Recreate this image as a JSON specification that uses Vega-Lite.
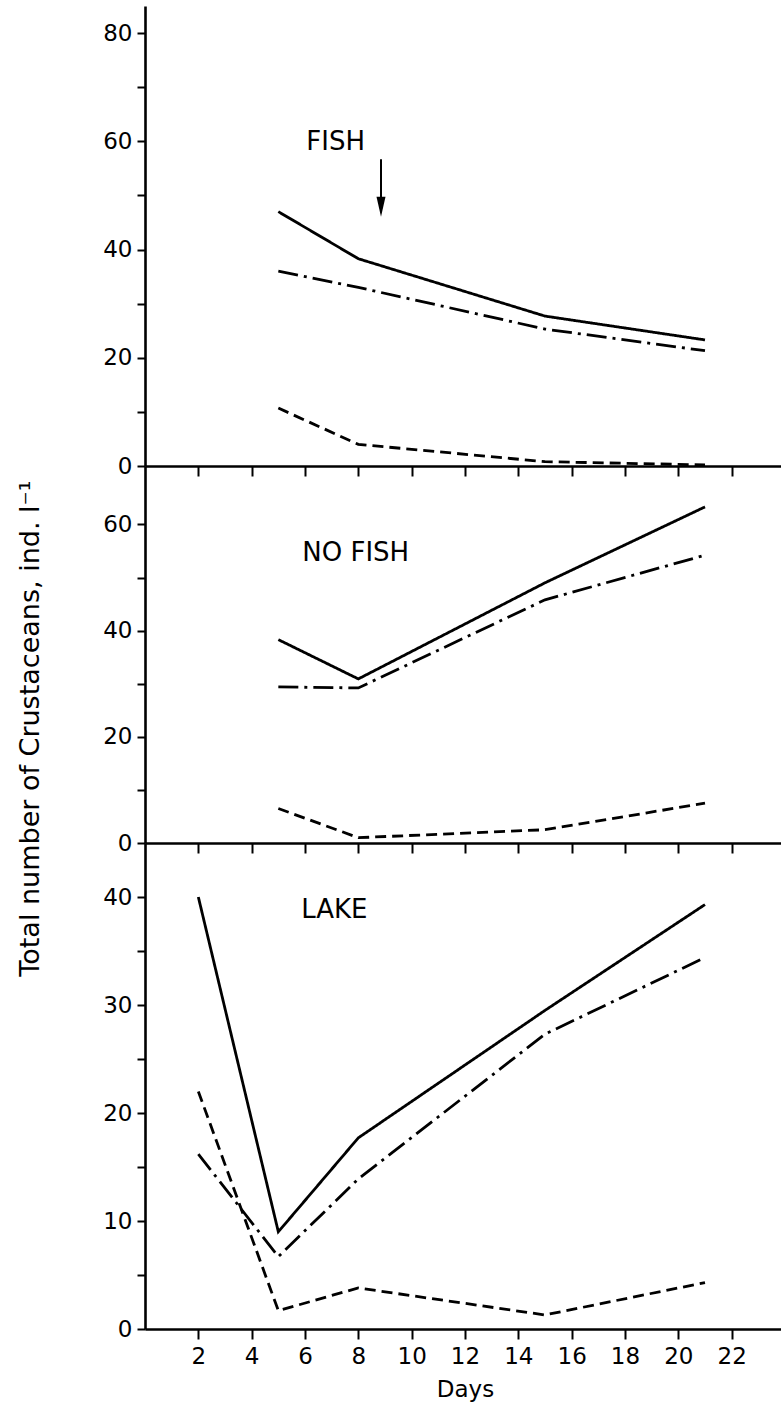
{
  "$schema": "https://vega.github.io/schema/vega-lite/v6.json",
  "background": "white",
  "padding": {"left": 16, "top": 6, "right": 0, "bottom": 5},
  "spacing": 0,
  "bounds": "flush",
  "config": {
    "view": {"stroke": null},
    "font": "DejaVu Sans",
    "axis": {
      "domainColor": "black", "tickColor": "black", "labelColor": "black", "titleColor": "black",
      "domainWidth": 2.6, "tickWidth": 2, "grid": false,
      "labelFont": "DejaVu Sans", "labelFontSize": 23, "titleFont": "DejaVu Sans",
      "titleFontWeight": "normal", "labelOverlap": false, "labelFlush": false
    }
  },
  "datasets": {
    "lines": [
      {"panel": "FISH", "series": "Total", "day": 5, "value": 47},
      {"panel": "FISH", "series": "Total", "day": 8, "value": 38.3},
      {"panel": "FISH", "series": "Total", "day": 15, "value": 27.7},
      {"panel": "FISH", "series": "Total", "day": 21, "value": 23.3},
      {"panel": "FISH", "series": "Group B", "day": 5, "value": 36},
      {"panel": "FISH", "series": "Group B", "day": 8, "value": 33},
      {"panel": "FISH", "series": "Group B", "day": 15, "value": 25.3},
      {"panel": "FISH", "series": "Group B", "day": 21, "value": 21.3},
      {"panel": "FISH", "series": "Group C", "day": 5, "value": 10.7},
      {"panel": "FISH", "series": "Group C", "day": 8, "value": 4},
      {"panel": "FISH", "series": "Group C", "day": 15, "value": 0.8},
      {"panel": "FISH", "series": "Group C", "day": 21, "value": 0.2},
      {"panel": "NO FISH", "series": "Total", "day": 5, "value": 38.3},
      {"panel": "NO FISH", "series": "Total", "day": 8, "value": 30.9},
      {"panel": "NO FISH", "series": "Total", "day": 15, "value": 49},
      {"panel": "NO FISH", "series": "Total", "day": 21, "value": 63.3},
      {"panel": "NO FISH", "series": "Group B", "day": 5, "value": 29.4},
      {"panel": "NO FISH", "series": "Group B", "day": 8, "value": 29.2},
      {"panel": "NO FISH", "series": "Group B", "day": 15, "value": 45.8},
      {"panel": "NO FISH", "series": "Group B", "day": 21, "value": 54.2},
      {"panel": "NO FISH", "series": "Group C", "day": 5, "value": 6.5},
      {"panel": "NO FISH", "series": "Group C", "day": 8, "value": 1},
      {"panel": "NO FISH", "series": "Group C", "day": 15, "value": 2.5},
      {"panel": "NO FISH", "series": "Group C", "day": 21, "value": 7.5},
      {"panel": "LAKE", "series": "Total", "day": 2, "value": 40},
      {"panel": "LAKE", "series": "Total", "day": 5, "value": 9},
      {"panel": "LAKE", "series": "Total", "day": 8, "value": 17.7},
      {"panel": "LAKE", "series": "Total", "day": 15, "value": 29.5},
      {"panel": "LAKE", "series": "Total", "day": 21, "value": 39.3},
      {"panel": "LAKE", "series": "Group B", "day": 2, "value": 16.2},
      {"panel": "LAKE", "series": "Group B", "day": 5, "value": 6.7},
      {"panel": "LAKE", "series": "Group B", "day": 8, "value": 13.9},
      {"panel": "LAKE", "series": "Group B", "day": 15, "value": 27.3},
      {"panel": "LAKE", "series": "Group B", "day": 21, "value": 34.4},
      {"panel": "LAKE", "series": "Group C", "day": 2, "value": 22},
      {"panel": "LAKE", "series": "Group C", "day": 5, "value": 1.7},
      {"panel": "LAKE", "series": "Group C", "day": 8, "value": 3.8},
      {"panel": "LAKE", "series": "Group C", "day": 15, "value": 1.3},
      {"panel": "LAKE", "series": "Group C", "day": 21, "value": 4.3}
    ],
    "labels": [
      {"panel": "FISH", "day": 7.15, "value": 59.8, "text": "FISH"},
      {"panel": "NO FISH", "day": 7.9, "value": 54.6, "text": "NO FISH"},
      {"panel": "LAKE", "day": 7.1, "value": 38.8, "text": "LAKE"}
    ],
    "arrow": [
      {"day": 8.85, "value": 56.7, "value2": 49.2, "head": 47.9}
    ]
  },
  "vconcat": [
    {
      "width": 640, "height": 460,
      "layer": [
        {
          "data": {"name": "lines"},
          "transform": [{"filter": "datum.panel === 'FISH'"}],
          "mark": {"type": "line", "color": "black", "strokeWidth": 2.8},
          "encoding": {
            "x": {"field": "day", "type": "quantitative", "scale": {"domain": [0, 24], "nice": false},
                  "axis": {"values": [2,4,6,8,10,12,14,16,18,20,22], "labels": false, "title": null, "tickSize": 10}},
            "y": {"field": "value", "type": "quantitative", "scale": {"domain": [0, 85], "nice": false},
                  "axis": {"values": [0,10,20,30,40,50,60,70,80], "labelExpr": "datum.value % 20 === 0 ? datum.label : ''", "title": null, "tickSize": 8, "labelPadding": 5}},
            "strokeDash": {"field": "series", "type": "nominal",
                  "scale": {"domain": ["Total", "Group B", "Group C"], "range": [[1, 0], [20, 6, 3, 6], [11, 6]]}, "legend": null}
          }
        },
        {
          "data": {"name": "labels"},
          "transform": [{"filter": "datum.panel === 'FISH'"}],
          "mark": {"type": "text", "fontSize": 26, "font": "DejaVu Sans", "color": "black", "align": "center", "baseline": "middle"},
          "encoding": {
            "x": {"field": "day", "type": "quantitative"},
            "y": {"field": "value", "type": "quantitative"},
            "text": {"field": "text"}
          }
        },
        {
          "data": {"name": "arrow"},
          "mark": {"type": "rule", "color": "black", "strokeWidth": 2},
          "encoding": {
            "x": {"field": "day", "type": "quantitative"},
            "y": {"field": "value", "type": "quantitative"},
            "y2": {"field": "value2"}
          }
        },
        {
          "data": {"name": "arrow"},
          "mark": {"type": "point", "shape": "M-0.45,-1L0.45,-1L0,1Z", "filled": true, "color": "black", "opacity": 1, "size": 400, "strokeWidth": 0},
          "encoding": {
            "x": {"field": "day", "type": "quantitative"},
            "y": {"field": "head", "type": "quantitative"}
          }
        }
      ]
    },
    {
      "width": 640, "height": 377,
      "layer": [
        {
          "data": {"name": "lines"},
          "transform": [{"filter": "datum.panel === 'NO FISH'"}],
          "mark": {"type": "line", "color": "black", "strokeWidth": 2.8},
          "encoding": {
            "x": {"field": "day", "type": "quantitative", "scale": {"domain": [0, 24], "nice": false},
                  "axis": {"values": [2,4,6,8,10,12,14,16,18,20,22], "labels": false, "title": null, "tickSize": 10}},
            "y": {"field": "value", "type": "quantitative", "scale": {"domain": [0, 71], "nice": false},
                  "axis": {"values": [0,10,20,30,40,50,60], "labelExpr": "datum.value % 20 === 0 ? datum.label : ''",
                           "title": "Total number of Crustaceans, ind. l⁻¹", "titleFontSize": 27, "titlePadding": 58, "titleY": 262,
                           "tickSize": 8, "labelPadding": 5}},
            "strokeDash": {"field": "series", "type": "nominal",
                  "scale": {"domain": ["Total", "Group B", "Group C"], "range": [[1, 0], [20, 6, 3, 6], [11, 6]]}, "legend": null}
          }
        },
        {
          "data": {"name": "labels"},
          "transform": [{"filter": "datum.panel === 'NO FISH'"}],
          "mark": {"type": "text", "fontSize": 26, "font": "DejaVu Sans", "color": "black", "align": "center", "baseline": "middle"},
          "encoding": {
            "x": {"field": "day", "type": "quantitative"},
            "y": {"field": "value", "type": "quantitative"},
            "text": {"field": "text"}
          }
        }
      ]
    },
    {
      "width": 640, "height": 486,
      "layer": [
        {
          "data": {"name": "lines"},
          "transform": [{"filter": "datum.panel === 'LAKE'"}],
          "mark": {"type": "line", "color": "black", "strokeWidth": 2.8},
          "encoding": {
            "x": {"field": "day", "type": "quantitative", "scale": {"domain": [0, 24], "nice": false},
                  "axis": {"values": [2,4,6,8,10,12,14,16,18,20,22], "title": "Days", "titleFontSize": 23, "titlePadding": 10, "tickSize": 10, "labelPadding": 6}},
            "y": {"field": "value", "type": "quantitative", "scale": {"domain": [0, 45], "nice": false},
                  "axis": {"values": [0,5,10,15,20,25,30,35,40], "labelExpr": "datum.value % 10 === 0 ? datum.label : ''", "title": null, "tickSize": 8, "labelPadding": 5}},
            "strokeDash": {"field": "series", "type": "nominal",
                  "scale": {"domain": ["Total", "Group B", "Group C"], "range": [[1, 0], [20, 6, 3, 6], [11, 6]]}, "legend": null}
          }
        },
        {
          "data": {"name": "labels"},
          "transform": [{"filter": "datum.panel === 'LAKE'"}],
          "mark": {"type": "text", "fontSize": 26, "font": "DejaVu Sans", "color": "black", "align": "center", "baseline": "middle"},
          "encoding": {
            "x": {"field": "day", "type": "quantitative"},
            "y": {"field": "value", "type": "quantitative"},
            "text": {"field": "text"}
          }
        }
      ]
    }
  ]
}
